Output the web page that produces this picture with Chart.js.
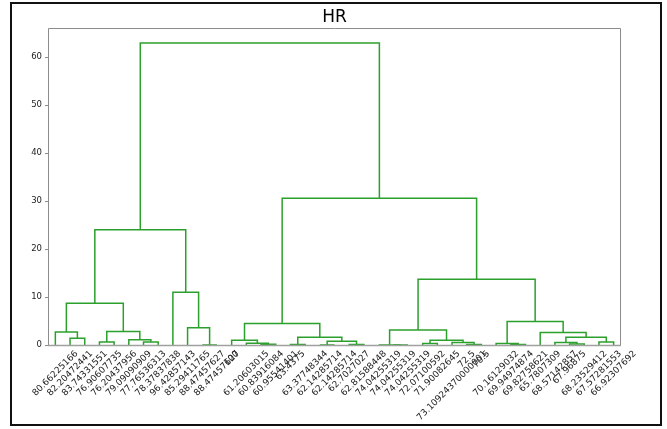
<!DOCTYPE html>
<html>
<head>
<meta charset="utf-8">
<title>HR</title>
<script src="https://cdn.jsdelivr.net/npm/chart.js@4.4.0/dist/chart.umd.min.js"></script>
<style>
  html, body { margin: 0; padding: 0; background: #fff; }
  #chart { display: block; }
</style>
</head>
<body>
<canvas id="chart" width="667" height="429"></canvas>
<script>
// Leaf labels (HR values), in dendrogram order
const leafLabels = [
  "80.66225166", "82.20472441", "83.74331551", "76.90607735", "76.20437956",
  "79.09090909", "77.76536313", "78.37837838", "96.42857143", "85.29411765",
  "88.47457627", "88.47457627", "100", "61.20603015", "60.83916084",
  "60.95541401", "63.4375", "63.37748344", "62.14285714", "62.14285714",
  "62.7027027", "62.81588448", "74.04255319", "74.04255319", "74.04255319",
  "72.07100592", "71.90082645", "73.10924370000001", "72.5", "70.5",
  "70.16129032", "69.94974874", "69.82758621", "65.7807309", "68.57142857",
  "67.96875", "68.23529412", "67.57281553", "66.92307692",
];

// Merges, like a linkage matrix: ids < 39 are leaves, 39 + k is merge k
const mergePairs = [
  [1, 2], [0, 39], [3, 4], [6, 7], [5, 42], [41, 43], [40, 44],
  [10, 11], [9, 46], [8, 47], [45, 48],
  [14, 15], [13, 50], [12, 51], [16, 17], [18, 19], [20, 21], [54, 55], [53, 56], [52, 57],
  [23, 24], [22, 59], [25, 26], [28, 29], [27, 62], [61, 63], [60, 64],
  [31, 32], [30, 66], [35, 36], [34, 68], [37, 38], [69, 70], [33, 71], [67, 72],
  [65, 73], [58, 74], [49, 75],
];
const mergeHeights = [
  1.4, 2.7, 0.6, 0.6, 1.1, 2.8, 8.7,
  0.0, 3.6, 11.0, 24.0,
  0.15, 0.35, 1.0, 0.1, 0.0, 0.1, 0.8, 1.6, 4.5,
  0.0, 0.0, 0.3, 0.1, 0.5, 1.0, 3.1,
  0.1, 0.3, 0.2, 0.5, 0.6, 1.6, 2.6, 4.9,
  13.7, 30.6, 62.9,
];

const yTickValues = [0, 10, 20, 30, 40, 50, 60];

const linkColor = "#2ca02c";
const nLeaves = leafLabels.length;

// Build the U-shaped link of each merge in data units
function buildLinks() {
  const nodeX = [];
  const nodeY = [];
  leafLabels.forEach((label, i) => {
    nodeX[i] = 5 + 10 * i;
    nodeY[i] = 0;
  });
  const links = [];
  mergePairs.forEach((pair, k) => {
    const a = pair[0];
    const b = pair[1];
    const h = mergeHeights[k];
    links.push([
      { x: nodeX[a], y: nodeY[a] },
      { x: nodeX[a], y: h },
      { x: nodeX[b], y: h },
      { x: nodeX[b], y: nodeY[b] },
    ]);
    nodeX[nLeaves + k] = (nodeX[a] + nodeX[b]) / 2;
    nodeY[nLeaves + k] = h;
  });
  return links;
}

// Frame, title and rotated leaf labels
const dendroDecor = {
  id: "dendroDecor",
  beforeDraw(chart) {
    const ctx = chart.ctx;
    const area = chart.chartArea;
    ctx.save();
    ctx.fillStyle = "#fff";
    ctx.fillRect(0, 0, chart.width, chart.height);
    // outer black border
    ctx.strokeStyle = "#111";
    ctx.lineWidth = 2;
    ctx.strokeRect(11, 3, 650, 422);
    ctx.restore();
  },
  afterDraw(chart) {
    const ctx = chart.ctx;
    const area = chart.chartArea;
    const xScale = chart.scales.x;
    ctx.save();
    // axes frame
    ctx.strokeStyle = "#8c8c8c";
    ctx.lineWidth = 1;
    ctx.beginPath();
    ctx.moveTo(area.left + 0.5, area.bottom);
    ctx.lineTo(area.left + 0.5, area.top + 0.5);
    ctx.lineTo(area.right - 0.5, area.top + 0.5);
    ctx.lineTo(area.right - 0.5, area.bottom);
    ctx.stroke();
    ctx.strokeStyle = "#a0a0a0";
    ctx.lineWidth = 1.6;
    ctx.beginPath();
    ctx.moveTo(area.left, area.bottom + 0.5);
    ctx.lineTo(area.right, area.bottom + 0.5);
    ctx.stroke();

    // title
    ctx.fillStyle = "#000";
    ctx.font = "17px 'DejaVu Sans'";
    ctx.textAlign = "center";
    ctx.textBaseline = "middle";
    ctx.fillText("HR", (area.left + area.right) / 2, 18);

    // leaf labels, rotated 45 degrees and centred on their leaf
    ctx.font = "9px 'DejaVu Sans'";
    ctx.fillStyle = "#222";
    const s = Math.SQRT1_2;
    leafLabels.forEach((label, i) => {
      const w = ctx.measureText(label).width;
      const h = 9;
      const px = xScale.getPixelForValue(5 + 10 * i);
      const py = area.bottom + 4 + ((w + h) * s) / 2;
      ctx.save();
      ctx.translate(px, py);
      ctx.rotate(-Math.PI / 4);
      ctx.fillText(label, 0, 0);
      ctx.restore();
    });
    ctx.restore();
  },
};

const datasets = buildLinks().map((points) => ({
  data: points,
  borderColor: linkColor,
  borderWidth: 1.5,
  pointRadius: 0,
  showLine: true,
  tension: 0,
  clip: 4,
}));

new Chart(document.getElementById("chart"), {
  type: "scatter",
  data: { datasets: datasets },
  options: {
    responsive: false,
    animation: false,
    layout: { padding: { top: 28, right: 46, bottom: 84, left: 0 } },
    plugins: {
      legend: { display: false },
      tooltip: { enabled: false },
      title: { display: false },
    },
    scales: {
      x: {
        type: "linear",
        min: 0,
        max: nLeaves * 10,
        display: false,
      },
      y: {
        type: "linear",
        min: 0,
        max: 62.9 * 1.05,
        afterBuildTicks: (scale) => {
          scale.ticks = yTickValues.map((v) => ({ value: v }));
        },
        afterFit: (scale) => {
          scale.width = 48;
        },
        border: { display: false },
        grid: {
          drawOnChartArea: false,
          drawTicks: true,
          tickLength: 3,
          color: "#8c8c8c",
        },
        ticks: {
          color: "#222",
          padding: 3,
          font: { family: "DejaVu Sans", size: 8.5 },
        },
      },
    },
  },
  plugins: [dendroDecor],
});
</script>
</body>
</html>
